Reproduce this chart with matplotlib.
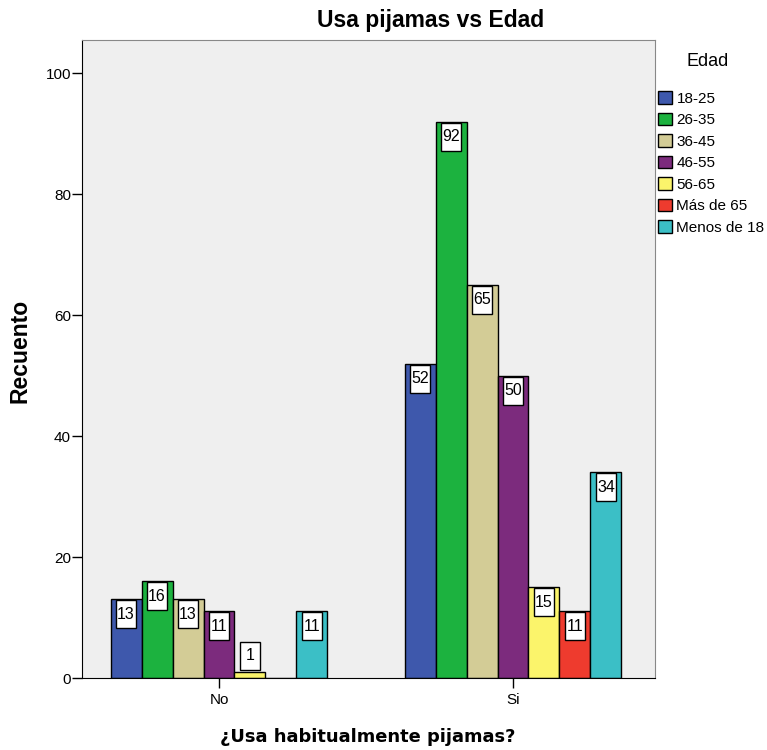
import numpy as np
import matplotlib
matplotlib.use("Agg")
import matplotlib.pyplot as plt
import matplotlib.transforms as mtransforms
from matplotlib.patches import Rectangle

# recuento por grupo de edad, para "No" y "Si"
categories = ["No", "Si"]
edades = ["18-25", "26-35", "36-45", "46-55", "56-65", "Más de 65", "Menos de 18"]
recuento_no = [13, 16, 13, 11, 1, 0, 11]
recuento_si = [52, 92, 65, 50, 15, 11, 34]
colores = ["#3E58AC", "#1CB23F", "#D3CC96", "#7C2B7D", "#FBF46B", "#EE3B2E", "#3BBFC6"]

plt.rcParams['font.family'] = ['Liberation Sans', 'DejaVu Sans']

fig = plt.figure(figsize=(7.67, 7.5), dpi=100)
ax = fig.add_axes([82 / 767, 72 / 750, 573 / 767, 638 / 750])
ax.set_facecolor("#EFEFEF")

x = np.arange(len(categories))
w = 0.1054
ymax = 105.5
ax.set_xlim(-0.466, 1.483)
ax.set_ylim(0, ymax)

# etiqueta de valor: caja blanca de tamaño fijo (en pulgadas) anclada al extremo de la barra
box_w, box_h = 0.20, 0.28


def etiqueta(xp, v):
    trans = fig.dpi_scale_trans + mtransforms.ScaledTranslation(xp, v, ax.transData)
    h_px = v / ymax * 638
    if h_px > box_h * 100 + 3:
        y0 = -0.01 - box_h
    else:
        y0 = 0.02
    ax.add_patch(Rectangle((-box_w / 2, y0), box_w, box_h, transform=trans,
                           fc="white", ec="black", lw=1, zorder=3, clip_on=False))
    ax.text(0, y0 + box_h / 2, str(v), transform=trans, ha="center", va="center",
            fontsize=11.5, zorder=4)


for i, edad in enumerate(edades):
    vals = [recuento_no[i], recuento_si[i]]
    pos = x + (i - 3) * w
    ax.bar(pos, vals, width=w, color=colores[i], edgecolor="black", linewidth=1, label=edad)
    for xp, v in zip(pos, vals):
        if v > 0:
            etiqueta(xp, v)

ax.set_xticks(x)
ax.set_xticklabels(categories, fontsize=11)
ax.set_yticks(range(0, 101, 20))
ax.tick_params(axis="y", labelsize=11, length=7, width=1, pad=1)
ax.tick_params(axis="x", length=7, width=1, pad=4)

for s in ["top", "right"]:
    ax.spines[s].set_color("#888888")
for s in ["left", "bottom"]:
    ax.spines[s].set_color("black")

fig.text(431 / 767, 1 - 20 / 750, "Usa pijamas vs Edad", ha="center", va="center",
         fontsize=16.5, fontweight="bold")
fig.text(368 / 767, 1 - 737 / 750, "¿Usa habitualmente pijamas?", ha="center", va="center",
         fontsize=12.9, fontweight="bold", family="DejaVu Sans")
fig.text(20 / 767, 1 - 351 / 750, "Recuento", ha="center", va="center", rotation=90,
         fontsize=16.5, fontweight="bold")

fig.text(708 / 767, 1 - 62 / 750, "Edad", ha="center", va="center", fontsize=13)
fig.legend(loc="upper left", bbox_to_anchor=(652 / 767, 1 - 85 / 750), frameon=False,
           fontsize=11, handlelength=0.9, handleheight=0.9, handletextpad=0.3,
           labelspacing=0.45, borderaxespad=0)

fig.savefig("out.png", dpi=100)
